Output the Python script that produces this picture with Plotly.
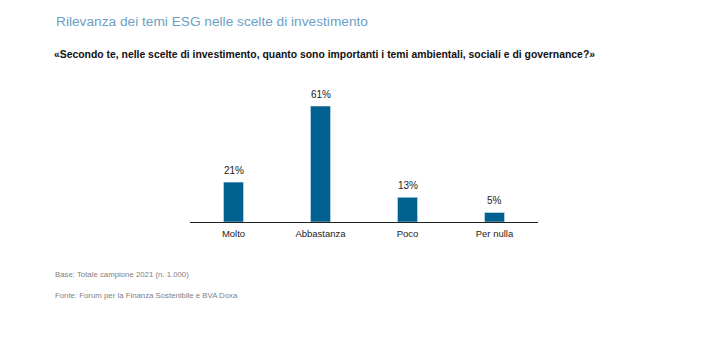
import plotly.graph_objects as go

categories = ["Molto", "Abbastanza", "Poco", "Per nulla"]
values = [21, 61, 13, 5]
labels = ["21%", "61%", "13%", "5%"]

title = "Rilevanza dei temi ESG nelle scelte di investimento"
subtitle = "«Secondo te, nelle scelte di investimento, quanto sono importanti i temi ambientali, sociali e di governance?»"
base_note = "Base: Totale campione 2021 (n. 1.000)"
source_note = "Fonte: Forum per la Finanza Sostenibile e BVA Doxa"

FONT = "Liberation Sans, Arial, sans-serif"
BAR = "#00608f"

# page offset (browser body margin)
OFF = 8
W, H = 704, 355
ML, MR, MT, MB = 190 - OFF, W - 538 + OFF, 89 - OFF, H - 222 + OFF

fig = go.Figure(go.Bar(x=categories, y=values, marker_color=BAR, width=0.23,
                       hoverinfo="skip"))

anns = []
for c, v, t in zip(categories, values, labels):
    anns.append(dict(x=c, y=v, xref="x", yref="y", text=t, showarrow=False,
                     yshift=12, font=dict(family=FONT, size=10, color="#222222")))

def fig_ann(text, x, y, size, color, bold=False):
    pw = W - ML - MR
    ph = H - MT - MB
    xp = (x - OFF - ML) / pw
    yp = (H - MB - (y - OFF)) / ph
    return dict(text=f"<b>{text}</b>" if bold else text, x=xp, y=yp,
                xref="paper", yref="paper", xanchor="left", yanchor="middle",
                showarrow=False, font=dict(family=FONT, size=size, color=color))

anns.append(fig_ann(title, 54, 21, 13.7, "#6c9fc3"))
anns.append(fig_ann(subtitle, 52, 54, 10.4, "#111111", bold=True))
anns.append(fig_ann(base_note, 53, 274, 7.8, "#808080"))
anns.append(fig_ann(source_note, 53, 295, 7.8, "#808080"))

fig.update_layout(
    width=W, height=H,
    margin=dict(l=ML, r=MR, t=MT, b=MB),
    paper_bgcolor="white", plot_bgcolor="white",
    showlegend=False,
    xaxis=dict(showline=True, linecolor="#222222", linewidth=1, ticks="",
               ticklabelstandoff=3,
               tickfont=dict(family=FONT, size=9.5, color="#222222"), fixedrange=True),
    yaxis=dict(range=[0, 70], visible=False, fixedrange=True),
    font=dict(family=FONT),
    annotations=anns,
)

fig.write_html("out.html")
